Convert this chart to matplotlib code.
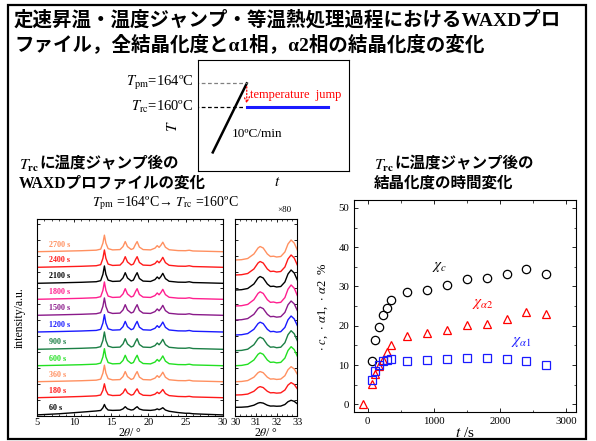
import numpy as np
import matplotlib
matplotlib.use("Agg")
import matplotlib.pyplot as plt
from matplotlib.patches import Rectangle
from matplotlib.ticker import MultipleLocator, NullFormatter

plt.rcParams['font.family'] = ['Liberation Serif', 'Noto Sans CJK JP']
plt.rcParams['mathtext.fontset'] = 'stix'

## ---------------------------------------------------------------
## DATA
## ---------------------------------------------------------------
# heating program sketch
T_pm = 164
T_rc = 160
T_start = 152.5
rate = 10.0          # degC/min
t_hold_end = 3.9     # min

# WAXD profiles (offset stack, arbitrary units)
times = ['60 s', '180 s', '360 s', '600 s', '900 s', '1200 s',
         '1500 s', '1800 s', '2100 s', '2400 s', '2700 s']
colors = ['black', '#ff1a1a', '#ff9060', '#22e022', '#1b7f45', '#1a1aff',
          '#8a1a8a', '#ff1f8f', 'black', '#ff1a1a', '#ff9060']

two_theta = [5, 8, 11, 13.0, 13.6, 13.9, 14.1, 14.3, 14.6, 15.2, 16.2, 16.6, 16.9,
             17.2, 17.7, 18.0, 18.3, 18.5, 18.8, 19.3, 20.3, 20.9, 21.2, 21.45,
             21.7, 21.95, 22.3, 22.8, 24.0, 25.0, 25.5, 26.0, 27.5, 30]
cryst = [0, 0.3, 0.6, 1.0, 2.0, 8.0, 16.0, 8.0, 2.5, 1.2, 1.5, 4.5, 9.5,
         4.5, 1.6, 2.5, 7.0, 9.5, 4.0, 1.5, 1.2, 3.0, 5.5, 3.8,
         6.0, 9.0, 4.0, 1.5, 0.8, 0.8, 1.3, 0.6, 0.4, 0]
halo = [0, 1.0, 2.5, 3.5, 3.6, 3.7, 3.7, 3.8, 3.8, 4.0, 4.1, 4.1, 4.2,
        4.2, 4.2, 4.2, 4.2, 4.2, 4.2, 4.2, 4.0, 3.8, 3.7, 3.6,
        3.5, 3.4, 3.2, 3.0, 2.0, 1.3, 1.1, 0.9, 0.5, 0]
offsets = [0.8, 18, 34, 50, 66.4, 83.7, 100.4, 116.4, 132.4, 148.4, 164]
cryst_scale = [0.42, 0.8, 1.0, 1.03, 1.05, 1.05, 1.05, 1.05, 1.05, 1.05, 1.0]
halo_scale = [1.0, 0.3, 0.15, 0.15, 0.15, 0.15, 0.15, 0.15, 0.15, 0.15, 0.15]

# x80 region
two_theta_hi = [30, 30.3, 30.6, 30.9, 31.1, 31.2, 31.35, 31.55, 31.7, 31.85,
                32.0, 32.2, 32.4, 32.55, 32.7, 32.85, 33]
hi_shape = [0, 0.3, 1.5, 6, 12, 13.5, 12, 6, 3.5, 3.8,
            3.0, 3.5, 8, 16, 20, 17, 10]
hi_offsets = [8.4, 20.7, 34, 50, 65, 80.7, 95.7, 109.7, 125.7, 140.7, 155.7]
hi_scale = [0.35, 0.62, 0.75, 0.95, 1.0, 0.95, 0.95, 1.05, 1.0, 1.0, 1.0]

# crystallinity vs time
t_c = [60, 120, 180, 240, 300, 360, 600, 900, 1200, 1500, 1800, 2100, 2400, 2700]
chi_c = [11.1, 16.3, 19.6, 22.8, 24.5, 26.5, 28.6, 29.2, 30.4, 32.0, 32.2, 33.1, 34.5, 33.2]
t_a2 = [-70, 60, 120, 180, 240, 300, 360, 600, 900, 1200, 1500, 1800, 2100, 2400, 2700]
chi_a2 = [0.0, 5.1, 7.7, 9.7, 11.4, 13.4, 15.0, 17.4, 18.2, 19.0, 20.2, 20.5, 21.8, 23.5, 23.1]
t_a1 = [60, 120, 180, 240, 300, 360, 600, 900, 1200, 1500, 1800, 2100, 2400, 2700]
chi_a1 = [6.2, 8.6, 10.0, 11.1, 11.4, 11.5, 11.1, 11.2, 11.5, 11.7, 11.8, 11.5, 11.1, 10.0]

## ---------------------------------------------------------------
W, H = 596, 441
fig = plt.figure(figsize=(W / 100, H / 100), dpi=100)


def box(x0, y0, x1, y1):
    ## pixel box -> figure fraction rect
    return [x0 / W, 1 - y1 / H, (x1 - x0) / W, (y1 - y0) / H]


def ftext(x, y, s, **kw):
    fig.text(x / W, 1 - y / H, s, **kw)


# outer frame
fig.patches.append(Rectangle((8 / W, 1 - 439 / H), 578 / W, 434 / H, fill=False,
                             lw=1.6, ec='black', transform=fig.transFigure))

# titles
ftext(14, 20, '定速昇温・温度ジャンプ・等温熱処理過程におけるWAXDプロ',
      fontsize=14, weight='bold', va='center')
ftext(14, 44, 'ファイル，全結晶化度とα1相，α2相の結晶化度の変化',
      fontsize=14, weight='bold', va='center')

# sub headings (T_rc drawn apart so the CJK part keeps its font)
for xh, line2 in [(19, 'WAXDプロファイルの変化'), (374, '結晶化度の時間変化')]:
    ftext(xh, 166, r'$\mathbf{\mathit{T}_{rc}}$', fontsize=11.5, va='center')
    ftext(xh + 20, 164, 'に温度ジャンプ後の', fontsize=11.2, weight='bold', va='center')
    ftext(xh, 184, line2, fontsize=11.2, weight='bold', va='center')

ftext(165, 203, r'$T_{\rm pm}$ =164ºC→ $T_{\rm rc}$ =160ºC', fontsize=10,
      ha='center', va='center')
ftext(284, 210, '×80', fontsize=6.5, ha='center', va='center')

## ---- heating program sketch ----
axd = fig.add_axes(box(197.7, 60, 349.3, 171))
t_ramp_end = (T_pm - T_start) / rate
axd.plot([0, t_ramp_end], [T_start, T_pm], color='black', lw=1.8)
axd.plot([t_ramp_end, t_hold_end], [T_rc, T_rc], color='#1a1aff', lw=2.2)
axd.plot([-0.6, t_ramp_end], [T_pm, T_pm], color='gray', lw=0.9, ls=(0, (3, 2)))
axd.plot([-0.6, t_ramp_end - 0.05], [T_rc, T_rc], color='black', lw=0.9, ls=(0, (3, 2)))
axd.annotate('', xy=(t_ramp_end, T_rc + 0.15), xytext=(t_ramp_end, T_pm - 0.1),
             arrowprops=dict(arrowstyle='->', color='red', lw=0.9, ls=':'))
axd.text(t_ramp_end + 0.12, 162.0, 'temperature  jump', color='red', fontsize=9,
         va='center')
axd.text(0.65, 155.6, '10ºC/min', fontsize=9.5, va='center')
axd.set_xlim(-0.51, 4.62)
axd.set_ylim(149.4, 167.9)
axd.set_xticks([])
axd.set_yticks([])
axd.text(-0.03, (T_pm - 149.4) / 18.5, r'$T_{\rm pm}$=164ºC', transform=axd.transAxes,
         ha='right', va='center', fontsize=10.5)
axd.text(-0.03, (T_rc - 149.4) / 18.5, r'$T_{\rm rc}$=160ºC', transform=axd.transAxes,
         ha='right', va='center', fontsize=10.5)
ftext(173, 126, '$T$', fontsize=11, rotation=90, ha='center', va='center')
ftext(277, 182, '$t$', fontsize=11, ha='center', va='center')

## ---- WAXD profiles ----
ax1 = fig.add_axes(box(36.7, 219.3, 222.7, 415.7))
ax2 = fig.add_axes(box(235.3, 219.3, 297.3, 415.7))
tt = np.array(two_theta)
for i in range(len(times)):
    y = offsets[i] + cryst_scale[i] * np.array(cryst) + halo_scale[i] * np.array(halo)
    ax1.plot(tt, y, color=colors[i], lw=1.0)
    ax1.text(6.6, offsets[i] + 7, times[i], color=colors[i], fontsize=5.8,
             weight='bold', va='center')
    yh = hi_offsets[i] + hi_scale[i] * np.array(hi_shape)
    ax2.plot(two_theta_hi, yh, color=colors[i], lw=1.0)

ax1.set_xlim(5, 30)
ax2.set_xlim(30, 33)
for ax in (ax1, ax2):
    ax.set_ylim(0, 196.4)
    ax.yaxis.set_major_locator(MultipleLocator(16))
    ax.yaxis.set_major_formatter(NullFormatter())
    ax.tick_params(direction='in', top=True, right=True, labelsize=7.5, length=2.5,
                   width=0.6, pad=2)
    ax.tick_params(which='minor', direction='in', top=True, right=True, length=1.5,
                   width=0.5)
    for s in ax.spines.values():
        s.set_linewidth(0.8)
ftext(130, 433.5, r'2$\it{\theta}$/ °', fontsize=8.5, ha='center', va='center')
ftext(266, 433.5, r'2$\it{\theta}$/ °', fontsize=8.5, ha='center', va='center')
ax1.xaxis.set_major_locator(MultipleLocator(5))
ax1.xaxis.set_minor_locator(MultipleLocator(1))
ax2.xaxis.set_major_locator(MultipleLocator(1))
ax2.xaxis.set_minor_locator(MultipleLocator(0.25))
ax1.set_ylabel('intensity/a.u.', fontsize=8.5, labelpad=6)

## ---- crystallinity ----
ax3 = fig.add_axes(box(354.3, 200, 576, 412.3))
ax3.plot(t_c, chi_c, 'o', mfc='none', mec='black', ms=6, mew=0.9)
ax3.plot(t_a2, chi_a2, '^', mfc='none', mec='red', ms=6, mew=0.9)
ax3.plot(t_a1, chi_a1, 's', mfc='none', mec='#1a1aff', ms=6, mew=0.9)
ax3.text(1083, 35.0, r'$\chi_c$', fontsize=11, ha='center', va='center')
ax3.text(1740, 25.6, r'$\chi_{\alpha 2}$', fontsize=11, color='red', ha='center',
         va='center')
ax3.text(2320, 16.0, r'$\chi_{\alpha 1}$', fontsize=11, color='#1a1aff', ha='center',
         va='center')
ax3.set_xlim(-200, 3150)
ax3.set_ylim(-2, 52)
ax3.xaxis.set_major_locator(MultipleLocator(1000))
ax3.xaxis.set_minor_locator(MultipleLocator(500))
ax3.yaxis.set_major_locator(MultipleLocator(10))
ax3.yaxis.set_minor_locator(MultipleLocator(5))
ax3.tick_params(direction='in', top=True, right=True, labelsize=7.8, length=3, width=0.6)
ax3.tick_params(which='minor', direction='in', top=True, right=True, length=1.8, width=0.5)
for s in ax3.spines.values():
    s.set_linewidth(0.8)
ax3.set_xlabel(r'$t$ /s', fontsize=11, labelpad=0)
ax3.set_ylabel(r'$\cdot$ $c$,  $\cdot$ $\alpha$1,  $\cdot$ $\alpha$2  %', fontsize=9,
               labelpad=6)

fig.savefig('out.png', dpi=100)
